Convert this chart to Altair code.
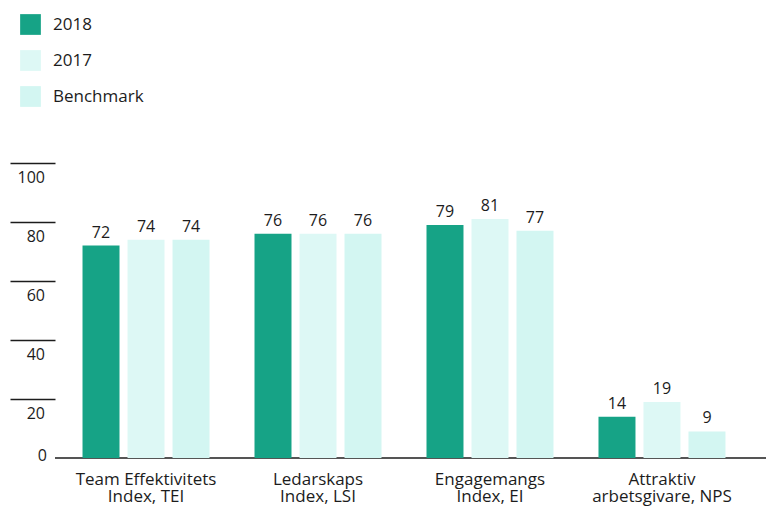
import altair as alt
import pandas as pd

categories = ["Team Effektivitets\nIndex, TEI", "Ledarskaps\nIndex, LSI",
              "Engagemangs\nIndex, EI", "Attraktiv\narbetsgivare, NPS"]
series = ["2018", "2017", "Benchmark"]
values_2018 = [72, 76, 79, 14]
values_2017 = [74, 76, 81, 19]
values_bench = [74, 76, 77, 9]
colors = ["#16a386", "#ddf8f5", "#d3f6f2"]
y_tick_values = [20, 40, 60, 80, 100]

rows = []
for s, vals in zip(series, [values_2018, values_2017, values_bench]):
    for c, v in zip(categories, vals):
        rows.append({"category": c, "series": s, "value": v})
df = pd.DataFrame(rows)
ticks_df = pd.DataFrame({"t": y_tick_values})
zero_df = pd.DataFrame({"t": [0]})

W, H = 711, 295
FONT = "Open Sans"
TXT = "#1c1c1c"

yscale = alt.Scale(domain=[0, 100], nice=False, zero=True)
yaxis = alt.Axis(title=None, values=y_tick_values, labels=False,
                 domain=False, grid=False, tickSize=45,
                 tickColor=TXT, tickWidth=1.3)

x_enc = alt.X(
    "category:N", sort=categories,
    scale=alt.Scale(range=[0, 698], paddingInner=0.2616, paddingOuter=0.16),
    axis=alt.Axis(title=None, domain=False, ticks=False, labelAngle=0,
                  labelFontSize=17, labelColor=TXT, labelFont=FONT,
                  labelPadding=13, labelLineHeight=17,
                  labelExpr="split(datum.label, '\\n')"),
)
xoff_enc = alt.XOffset("series:N", sort=series,
                       scale=alt.Scale(paddingInner=0.178, paddingOuter=0))

baseline = alt.Chart(zero_df).mark_rule(color=TXT, strokeWidth=1.3).encode(
    y=alt.Y("t:Q", scale=yscale, axis=yaxis),
    x=alt.value(0), x2=alt.value(W + 10),
)

bars = alt.Chart(df).mark_bar().encode(
    x=x_enc,
    xOffset=xoff_enc,
    y=alt.Y("value:Q", scale=yscale, axis=yaxis),
    color=alt.Color("series:N", sort=series,
                    scale=alt.Scale(domain=series, range=colors),
                    legend=alt.Legend(title=None, orient="none",
                                      legendX=-35, legendY=-149, padding=0,
                                      symbolType="square", symbolSize=430,
                                      symbolStrokeWidth=0, labelFont=FONT,
                                      labelFontSize=17, labelColor=TXT,
                                      labelOffset=12, rowPadding=15)),
)

value_text = alt.Chart(df).mark_text(
    dy=-13, baseline="middle", fontSize=16, font=FONT, color=TXT
).encode(
    x=alt.X("category:N", sort=categories), xOffset=alt.XOffset("series:N", sort=series),
    y=alt.Y("value:Q", scale=yscale, axis=yaxis),
    text="value:Q",
)

ylabels = alt.Chart(ticks_df).mark_text(
    align="right", baseline="middle", dy=15, fontSize=16, font=FONT, color=TXT
).encode(
    y=alt.Y("t:Q", scale=yscale, axis=yaxis),
    x=alt.value(-10),
    text="t:Q",
)

ylabel0 = alt.Chart(zero_df).mark_text(
    align="right", baseline="middle", dy=-2, fontSize=16, font=FONT, color=TXT
).encode(
    y=alt.Y("t:Q", scale=yscale, axis=yaxis),
    x=alt.value(-8),
    text="t:Q",
)

chart = alt.layer(baseline, bars, value_text, ylabels, ylabel0).properties(
    width=W, height=H,
    background="white",
    autosize=alt.AutoSizeParams(type="none"),
    padding={"left": 47, "top": 155, "right": 0, "bottom": 48},
).configure_view(stroke=None)

chart.save("out.html", embed_options={"renderer": "svg", "actions": False})
